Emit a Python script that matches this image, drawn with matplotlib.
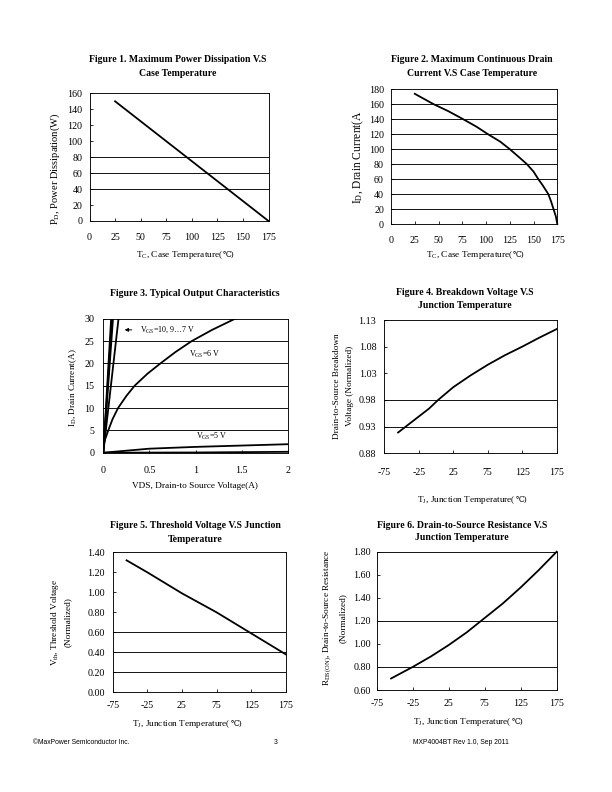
import matplotlib
matplotlib.use("Agg")
import matplotlib.pyplot as plt

plt.rcParams["font.family"] = ["Liberation Serif", "DejaVu Sans"]
plt.rcParams["mathtext.fontset"] = "custom"
plt.rcParams["mathtext.rm"] = "Liberation Serif"
plt.rcParams["mathtext.it"] = "Liberation Serif"
plt.rcParams["axes.unicode_minus"] = False

# Figure 1: power dissipation vs case temperature
tc1 = [25, 175]
pd1 = [150, 0]
grid1 = [40, 60, 80]

# Figure 2: drain current vs case temperature
tc2 = [25, 35, 45, 60, 76, 90, 102, 115, 125, 135, 143, 150, 155, 160, 165.5, 168.5, 171, 173.5, 175]
id2 = [174, 167, 160, 151, 140, 130, 120, 110, 100, 89, 80, 70, 60, 51, 40, 30, 20, 10, 0]
grid2 = [20, 40, 60, 80, 100, 120, 140, 160]

# Figure 3: output characteristics
vds_hi = [[0, 0.085], [0, 0.095], [0, 0.105], [0, 0.165]]
id_hi = [[0, 30], [0, 30], [0, 30], [0, 30]]
vds6 = [0, 0.02, 0.054, 0.1, 0.16, 0.25, 0.34, 0.48, 0.62, 0.78, 0.96, 1.18, 1.43]
id6 = [1.5, 3, 5, 7.5, 10, 12.7, 15, 17.7, 20, 22.5, 25, 27.5, 30]
vds5 = [0, 0.5, 1.0, 1.5, 2.0]
id5 = [0, 0.9, 1.3, 1.6, 1.9]
vds4 = [0, 1.0, 2.0]
id4 = [0, 0.05, 0.2]
grid3 = [5, 10, 15, 20, 25]

# Figure 4: breakdown voltage vs junction temperature
tj4 = [-55, -40, -25, -10, 3, 25, 50, 75, 100, 125, 150, 175]
bv4 = [0.919, 0.934, 0.949, 0.964, 0.98, 1.004, 1.026, 1.046, 1.064, 1.080, 1.097, 1.113]
grid4 = [0.93, 0.98]

# Figure 5: threshold voltage vs junction temperature
tj5 = [-55, -25, 25, 75, 125, 175]
vth5 = [1.32, 1.20, 0.99, 0.80, 0.59, 0.38]
grid5 = [0.2, 0.4, 0.6]

# Figure 6: on-resistance vs junction temperature
tj6 = [-55, -25, 0, 25, 50, 70, 100, 125, 150, 175]
rds6 = [0.70, 0.80, 0.89, 0.99, 1.10, 1.20, 1.35, 1.49, 1.64, 1.80]
grid6 = [0.8, 1.2]

W, H = 612, 792
fig = plt.figure(figsize=(W / 72, H / 72), dpi=72)
renderer = fig.canvas.get_renderer()


def make_axes(x0, y0, x1, y1):
    return fig.add_axes([x0 / W, 1 - y1 / H, (x1 - x0) / W, (y1 - y0) / H])


def style(ax, xlim, xticks, ylim, yticks, yfmt, grid, xpad=9, ypad=7):
    ax.set_xlim(*xlim)
    ax.set_ylim(*ylim)
    ax.set_xticks(xticks)
    ax.set_yticks(yticks)
    ax.set_yticklabels([yfmt.format(v) for v in yticks])
    ax.tick_params(direction="in", length=3, width=0.8, labelsize=10)
    ax.tick_params(axis="x", pad=xpad)
    ax.tick_params(axis="y", pad=ypad)
    for s in ax.spines.values():
        s.set_linewidth(0.9)
    for g in grid:
        ax.axhline(g, color="black", lw=0.9, zorder=1)


def text(x, y, s, **kw):
    return fig.text(x / W, 1 - y / H, s, **kw)


def temp_label(x, y, head, size=9.3):
    # the degree-Celsius sign is drawn as plain text next to the mathtext part
    base = y + 3
    t1 = text(0, base, head, ha="left", va="baseline", fontsize=size)
    t2 = text(0, base, "\u2103)", ha="left", va="baseline", fontsize=size * 0.85,
              family=["DejaVu Serif"])
    w1 = t1.get_window_extent(renderer).width
    w2 = t2.get_window_extent(renderer).width
    x0 = x - (w1 + w2) / 2
    t1.set_x(x0 / W)
    t2.set_x((x0 + w1 + 0.5) / W)


title_kw = dict(ha="center", va="center", fontsize=9.7, fontweight="bold")
lab_kw = dict(ha="center", va="center", fontsize=9.3)

# Figure 1
ax1 = make_axes(89.5, 93.3, 268.5, 221)
ax1.plot(tc1, pd1, color="black", lw=1.8, zorder=3, clip_on=False)
style(ax1, (0, 175), range(0, 176, 25), (0, 160), range(0, 161, 20), "{}", grid1, xpad=12)
text(178, 60, "Figure 1. Maximum Power Dissipation V.S", **title_kw)
text(178, 73, "Case Temperature", **title_kw)
temp_label(185, 254, "T$_\\mathrm{C}$, Case Temperature(")
text(55, 169, "P$_\\mathrm{D}$, Power Dissipation(W)", rotation=90, ha="center", va="center", fontsize=10.5)

# Figure 2
ax2 = make_axes(391, 89.3, 557.3, 224)
ax2.plot(tc2, id2, color="black", lw=1.8, zorder=3, clip_on=False)
style(ax2, (0, 175), range(0, 176, 25), (0, 180), range(0, 181, 20), "{}", grid2, xpad=12)
text(472, 59, "Figure 2. Maximum Continuous Drain", **title_kw)
text(472, 73, "Current V.S Case Temperature", **title_kw)
temp_label(475, 254, "T$_\\mathrm{C}$, Case Temperature(")
text(358, 157, "I$_\\mathrm{D}$, Drain Current(A", rotation=90, ha="center", va="center", fontsize=11.5)

# Figure 3
ax3 = make_axes(103.3, 318.7, 287.7, 452.7)
for xs, ys in zip(vds_hi, id_hi):
    ax3.plot(xs, ys, color="black", lw=1.8, zorder=3)
ax3.plot(vds6, id6, color="black", lw=1.8, zorder=3)
ax3.plot(vds5, id5, color="black", lw=1.8, zorder=3)
ax3.plot(vds4, id4, color="black", lw=1.8, zorder=3)
style(ax3, (0, 2), [0, 0.5, 1, 1.5, 2], (0, 30), range(0, 31, 5), "{}", grid3, xpad=13, ypad=9)
ax3.set_xticklabels(["0", "0.5", "1", "1.5", "2"])
ax3.annotate("", xy=(0.21, 27.5), xytext=(0.33, 27.5),
             arrowprops=dict(arrowstyle="-|>", color="black", lw=1.0, mutation_scale=7))
ax3.text(0.40, 27.5, "V$_\\mathrm{GS}$=10, 9\u20267 V", fontsize=8, va="center", ha="left")
ax3.text(0.93, 21.9, "V$_\\mathrm{GS}$=6 V", fontsize=8, va="center", ha="left")
ax3.text(1.01, 3.6, "V$_\\mathrm{GS}$=5 V", fontsize=8, va="center", ha="left")
text(195, 294, "Figure 3. Typical Output Characteristics", **title_kw)
text(195, 486, "VDS, Drain-to Source Voltage(A)", **lab_kw)
text(73, 388, "I$_\\mathrm{D}$, Drain Current(A)", rotation=90, **lab_kw)

# Figure 4
ax4 = make_axes(384.3, 320, 556.7, 453.3)
ax4.plot(tj4, bv4, color="black", lw=1.8, zorder=3)
style(ax4, (-75, 175), range(-75, 176, 50), (0.88, 1.13),
      [0.88, 0.93, 0.98, 1.03, 1.08, 1.13], "{:.2f}", grid4, xpad=15, ypad=8)
text(465, 292, "Figure 4. Breakdown Voltage V.S", **title_kw)
text(465, 305, "Junction Temperature", **title_kw)
temp_label(472, 499, "T$_\\mathrm{J}$, Junction Temperature(")
text(337, 386, "Drain-to-Source Breakdown", rotation=90, **lab_kw)
text(350, 386, "Voltage (Normalized)", rotation=90, **lab_kw)

# Figure 5
ax5 = make_axes(112.7, 552.3, 285.7, 692.3)
ax5.plot(tj5, vth5, color="black", lw=1.8, zorder=3, clip_on=False)
style(ax5, (-75, 175), range(-75, 176, 50), (0, 1.4),
      [0, 0.2, 0.4, 0.6, 0.8, 1.0, 1.2, 1.4], "{:.2f}", grid5, xpad=9, ypad=8)
text(195, 525, "Figure 5. Threshold Voltage V.S Junction", **title_kw)
text(195, 539, "Temperature", **title_kw)
temp_label(187, 723, "T$_\\mathrm{J}$, Junction Temperature(")
text(55, 622, "V$_\\mathrm{th}$, Threshold Voltage", rotation=90, **lab_kw)
text(68, 622, "(Normalized)", rotation=90, **lab_kw)

# Figure 6
ax6 = make_axes(376.7, 551.7, 556.7, 690)
ax6.plot(tj6, rds6, color="black", lw=1.8, zorder=3, clip_on=False)
style(ax6, (-75, 175), range(-75, 176, 50), (0.6, 1.8),
      [0.6, 0.8, 1.0, 1.2, 1.4, 1.6, 1.8], "{:.2f}", grid6, xpad=9, ypad=6)
text(462, 525, "Figure 6. Drain-to-Source Resistance V.S", **title_kw)
text(462, 538, "Junction Temperature", **title_kw)
temp_label(468, 721, "T$_\\mathrm{J}$, Junction Temperature(")
text(328, 618, "R$_\\mathrm{DS(ON)}$, Drain-to-Source Resistance", rotation=90, **lab_kw)
text(343, 618, "(Normalized)", rotation=90, **lab_kw)

# footer
foot_kw = dict(family=["Liberation Sans", "DejaVu Sans"], fontsize=6.7, va="center")
text(33, 743, "\u00a9MaxPower Semiconductor Inc.", ha="left", **foot_kw)
text(276, 743, "3", ha="center", **foot_kw)
text(509, 743, "MXP4004BT Rev 1.0, Sep 2011", ha="right", **foot_kw)

fig.savefig("out.png", dpi=72)
